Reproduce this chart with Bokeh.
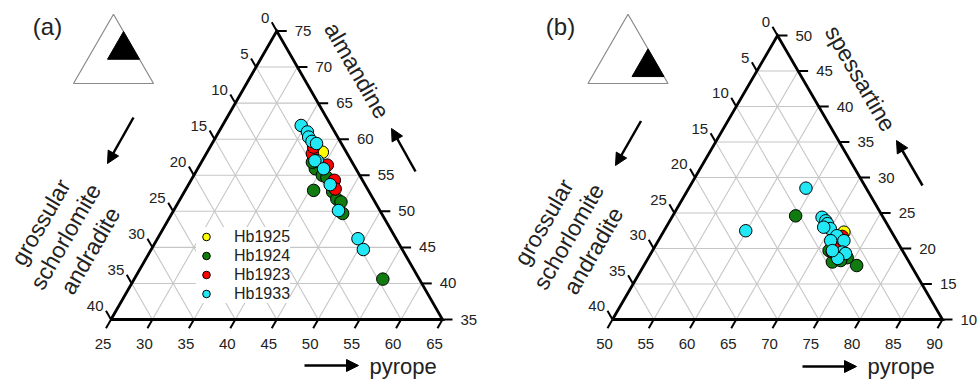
import numpy as np
from bokeh.plotting import figure
from bokeh.models import Range1d, Arrow, NormalHead, Legend, LegendItem
from bokeh.core.properties import value
from bokeh.embed import file_html
from bokeh.resources import INLINE

FONT = "Liberation Sans"
TXT = "#222222"

# ---------------- data ----------------
series_names = ["Hb1925", "Hb1924", "Hb1923", "Hb1933"]
series_colors = ["#ffff00", "#107c10", "#ff0000", "#22e8f5"]

# panel (a): pyrope / almandine (mol %); grossular+schorlomite+andradite = remainder
a_pyr_Hb1925 = [38.9]
a_alm_Hb1925 = [58.2]
a_pyr_Hb1924 = [40.5, 39.2, 40.5, 41.2, 42.9, 43.9, 44.6, 45.6, 55.0, 38.4]
a_alm_Hb1924 = [52.9, 55.9, 55.0, 54.7, 52.7, 51.7, 51.3, 49.7, 40.6, 56.8]
a_pyr_Hb1923 = [37.8, 37.5, 40.4, 42.3, 43.0]
a_alm_Hb1923 = [58.0, 58.9, 56.4, 54.3, 53.1]
a_pyr_Hb1933 = [34.5, 35.7, 36.2, 36.9, 37.6, 38.9, 38.6, 40.2, 42.1, 44.9, 49.2, 50.6]
a_alm_Hb1933 = [61.9, 61.0, 60.3, 59.7, 59.4, 57.0, 57.0, 55.9, 53.7, 50.1, 46.2, 44.7]

# panel (b): pyrope / spessartine (mol %)
b_pyr_Hb1925 = [71.9]
b_sps_Hb1925 = [22.3]
b_pyr_Hb1924 = [64.9, 75.8, 71.4, 74.1, 72.6, 73.5]
b_sps_Hb1924 = [24.6, 17.6, 19.7, 18.7, 18.1, 18.3]
b_pyr_Hb1923 = [71.9, 71.9, 72.0]
b_sps_Hb1923 = [19.5, 20.0, 21.7]
b_pyr_Hb1933 = [64.2, 59.9, 68.2, 68.9, 69.3, 70.0, 69.1, 71.3, 72.5, 70.9, 73.1, 73.6, 73.0, 71.8]
b_sps_Hb1933 = [28.5, 22.5, 24.4, 23.9, 23.5, 22.8, 23.0, 21.8, 21.1, 21.1, 19.5, 19.3, 18.6, 19.7]

# tick values
a_grs_ticks = [0, 5, 10, 15, 20, 25, 30, 35, 40]
a_alm_ticks = [35, 40, 45, 50, 55, 60, 65, 70, 75]
a_pyr_ticks = [25, 30, 35, 40, 45, 50, 55, 60, 65]
b_grs_ticks = [0, 5, 10, 15, 20, 25, 30, 35, 40]
b_sps_ticks = [10, 15, 20, 25, 30, 35, 40, 45, 50]
b_pyr_ticks = [50, 55, 60, 65, 70, 75, 80, 85, 90]

# ---------------- figure ----------------
WIDTH, HEIGHT = 978, 379
p = figure(width=WIDTH, height=HEIGHT, output_backend="svg", toolbar_location=None,
           x_range=Range1d(0, WIDTH), y_range=Range1d(0, HEIGHT),
           x_axis_type=None, y_axis_type=None, min_border=0)
p.outline_line_color = None
p.background_fill_color = "white"
p.border_fill_color = "white"
p.grid.visible = False


def make_panel(x0, y0, w, h, pyr_ticks, top_ticks, grs_ticks):
    return dict(x0=x0, y0=y0, w=w, h=h, pmin=pyr_ticks[0], amin=top_ticks[0],
                span=pyr_ticks[-1] - pyr_ticks[0], pyr_ticks=pyr_ticks,
                top_ticks=top_ticks, grs_ticks=grs_ticks)


def to_xy(pan, P, A):
    P = np.asarray(P, dtype=float)
    A = np.asarray(A, dtype=float)
    pp = (P - pan["pmin"]) / pan["span"]
    aa = (A - pan["amin"]) / pan["span"]
    return pan["x0"] + pan["w"] * (pp + aa / 2), pan["y0"] + pan["h"] * aa


def txt(x, y, s, size, align="center", baseline="middle", angle=0.0, color=TXT, lh=1.2):
    p.text(x=x, y=y, text=s, text_font=value(FONT), text_font_size=value(size),
           text_align=align, text_baseline=baseline, angle=angle, text_color=color,
           text_line_height=lh)


def draw_panel(pan):
    pmin, amin, span = pan["pmin"], pan["amin"], pan["span"]
    total = 100.0
    gmin = total - pmin - amin - span
    # grid
    xs, ys = [], []
    for A in pan["top_ticks"][1:-1]:
        x, y = to_xy(pan, [pmin, total - gmin - A], [A, A])
        xs.append(list(x)); ys.append(list(y))
    for P in pan["pyr_ticks"][1:-1]:
        x, y = to_xy(pan, [P, P], [amin, total - gmin - P])
        xs.append(list(x)); ys.append(list(y))
    for G in pan["grs_ticks"][1:-1]:
        x, y = to_xy(pan, [total - G - amin, pmin], [amin, total - G - pmin])
        xs.append(list(x)); ys.append(list(y))
    p.multi_line(xs, ys, line_color="#c6c6c6", line_width=1.1)

    # ticks
    L = 10.0
    w, h = pan["w"], pan["h"]
    n = np.hypot(w / 2, h)
    dl = (-w / 2 / n, h / n)      # left edge: outward along constant-G lines
    db = (-w / 2 / n, -h / n)     # bottom edge: outward along constant-P lines
    txs, tys = [], []
    # left (grossular)
    ex, ey = to_xy(pan, [pmin] * len(pan["grs_ticks"]),
                   [total - pmin - g for g in pan["grs_ticks"]])
    for X, Y in zip(ex, ey):
        txs.append([X, X + L * dl[0]]); tys.append([Y, Y + L * dl[1]])
    txt(ex - 7.5, ey + 13.5, [str(g) for g in pan["grs_ticks"]], "15px", align="right")
    # right (almandine / spessartine)
    rx, ry = to_xy(pan, [total - gmin - a for a in pan["top_ticks"]], pan["top_ticks"])
    for X, Y in zip(rx, ry):
        txs.append([X, X + L]); tys.append([Y, Y])
    txt(rx + 18, ry, [str(a) for a in pan["top_ticks"]], "15px", align="left")
    # bottom (pyrope)
    bx, by = to_xy(pan, pan["pyr_ticks"], [amin] * len(pan["pyr_ticks"]))
    for X, Y in zip(bx, by):
        txs.append([X, X + L * db[0]]); tys.append([Y, Y + L * db[1]])
    txt(bx - 8, by - 24, [str(v) for v in pan["pyr_ticks"]], "15px")
    p.multi_line(txs, tys, line_color="black", line_width=2)

    # outline
    cx, cy = to_xy(pan, [pmin, pmin + span, pmin, pmin], [amin, amin, amin + span, amin])
    p.line(cx, cy, line_color="black", line_width=2.8, line_join="miter")


def draw_points(pan, pyr_list, top_list):
    rs = []
    for P, A, c in zip(pyr_list, top_list, series_colors):
        x, y = to_xy(pan, P, A)
        rs.append(p.scatter(x, y, size=12.5, fill_color=c, line_color="black", line_width=1))
    return rs


def draw_inset(pan, ix0, iy0, iw):
    ih = iw * np.sqrt(3) / 2
    p.patch([ix0, ix0 + iw, ix0 + iw / 2], [iy0, iy0, iy0 + ih], fill_color="white",
            line_color="#8a8a8a", line_width=1.2)
    pmin, amin, span = pan["pmin"], pan["amin"], pan["span"]
    P = np.array([pmin, pmin + span, pmin])
    A = np.array([amin, amin, amin + span])
    p.patch(ix0 + iw * (P / 100 + A / 200), iy0 + ih * A / 100,
            fill_color="black", line_color="black", line_width=1)


pan_a = make_panel(110.5, 60, 331.5, 288.5, a_pyr_ticks, a_alm_ticks, a_grs_ticks)
pan_b = make_panel(612, 60, 330, 284, b_pyr_ticks, b_sps_ticks, b_grs_ticks)

draw_panel(pan_a)
draw_panel(pan_b)

rs_a = draw_points(pan_a, [a_pyr_Hb1925, a_pyr_Hb1924, a_pyr_Hb1923, a_pyr_Hb1933],
                   [a_alm_Hb1925, a_alm_Hb1924, a_alm_Hb1923, a_alm_Hb1933])
draw_points(pan_b, [b_pyr_Hb1925, b_pyr_Hb1924, b_pyr_Hb1923, b_pyr_Hb1933],
            [b_sps_Hb1925, b_sps_Hb1924, b_sps_Hb1923, b_sps_Hb1933])

draw_inset(pan_a, 73, 296, 80)
draw_inset(pan_b, 587.5, 296, 80)

# titles
TS = "23px"
txt([47], [353], ["(a)"], "24px")
txt([560], [353], ["(b)"], "24px")
txt([356.5], [309], ["almandine"], TS, angle=-np.pi / 3)
txt([860], [301], ["spessartine"], TS, angle=-np.pi / 3)
txt([369], [1], ["pyrope"], "22px", align="left", baseline="bottom")
txt([867], [1], ["pyrope"], "22px", align="left", baseline="bottom")
for cx0, cy0 in [(65, 143), (568, 143)]:
    txt([cx0], [cy0], ["grossular\nschorlomite\nandradite"], TS, angle=np.pi / 3, lh=1.1)

# arrows
arrows = [
    (304, 14, 358, 14), (802, 13, 856, 13),
    (133, 262, 107, 216), (415, 208, 391, 251),
    (640.5, 258.5, 615, 214), (922, 194, 896, 239),
]
for xs_, ys_, xe_, ye_ in arrows:
    p.add_layout(Arrow(end=NormalHead(size=12, fill_color="black", line_color="black", line_width=1),
                       x_start=xs_, y_start=ys_, x_end=xe_, y_end=ye_,
                       line_color="black", line_width=2.5))

# legend (panel a)
legend = Legend(items=[LegendItem(label=nm, renderers=[r]) for nm, r in zip(series_names, rs_a)],
                location=(196, 76), glyph_width=20, glyph_height=19, label_height=19,
                spacing=0, padding=4, margin=0, label_standoff=18,
                label_text_font=FONT, label_text_font_size="16px", label_text_color=TXT,
                border_line_color=None, background_fill_color="white", background_fill_alpha=1.0)
p.add_layout(legend)

open("out.html", "w").write(file_html(p, INLINE))
